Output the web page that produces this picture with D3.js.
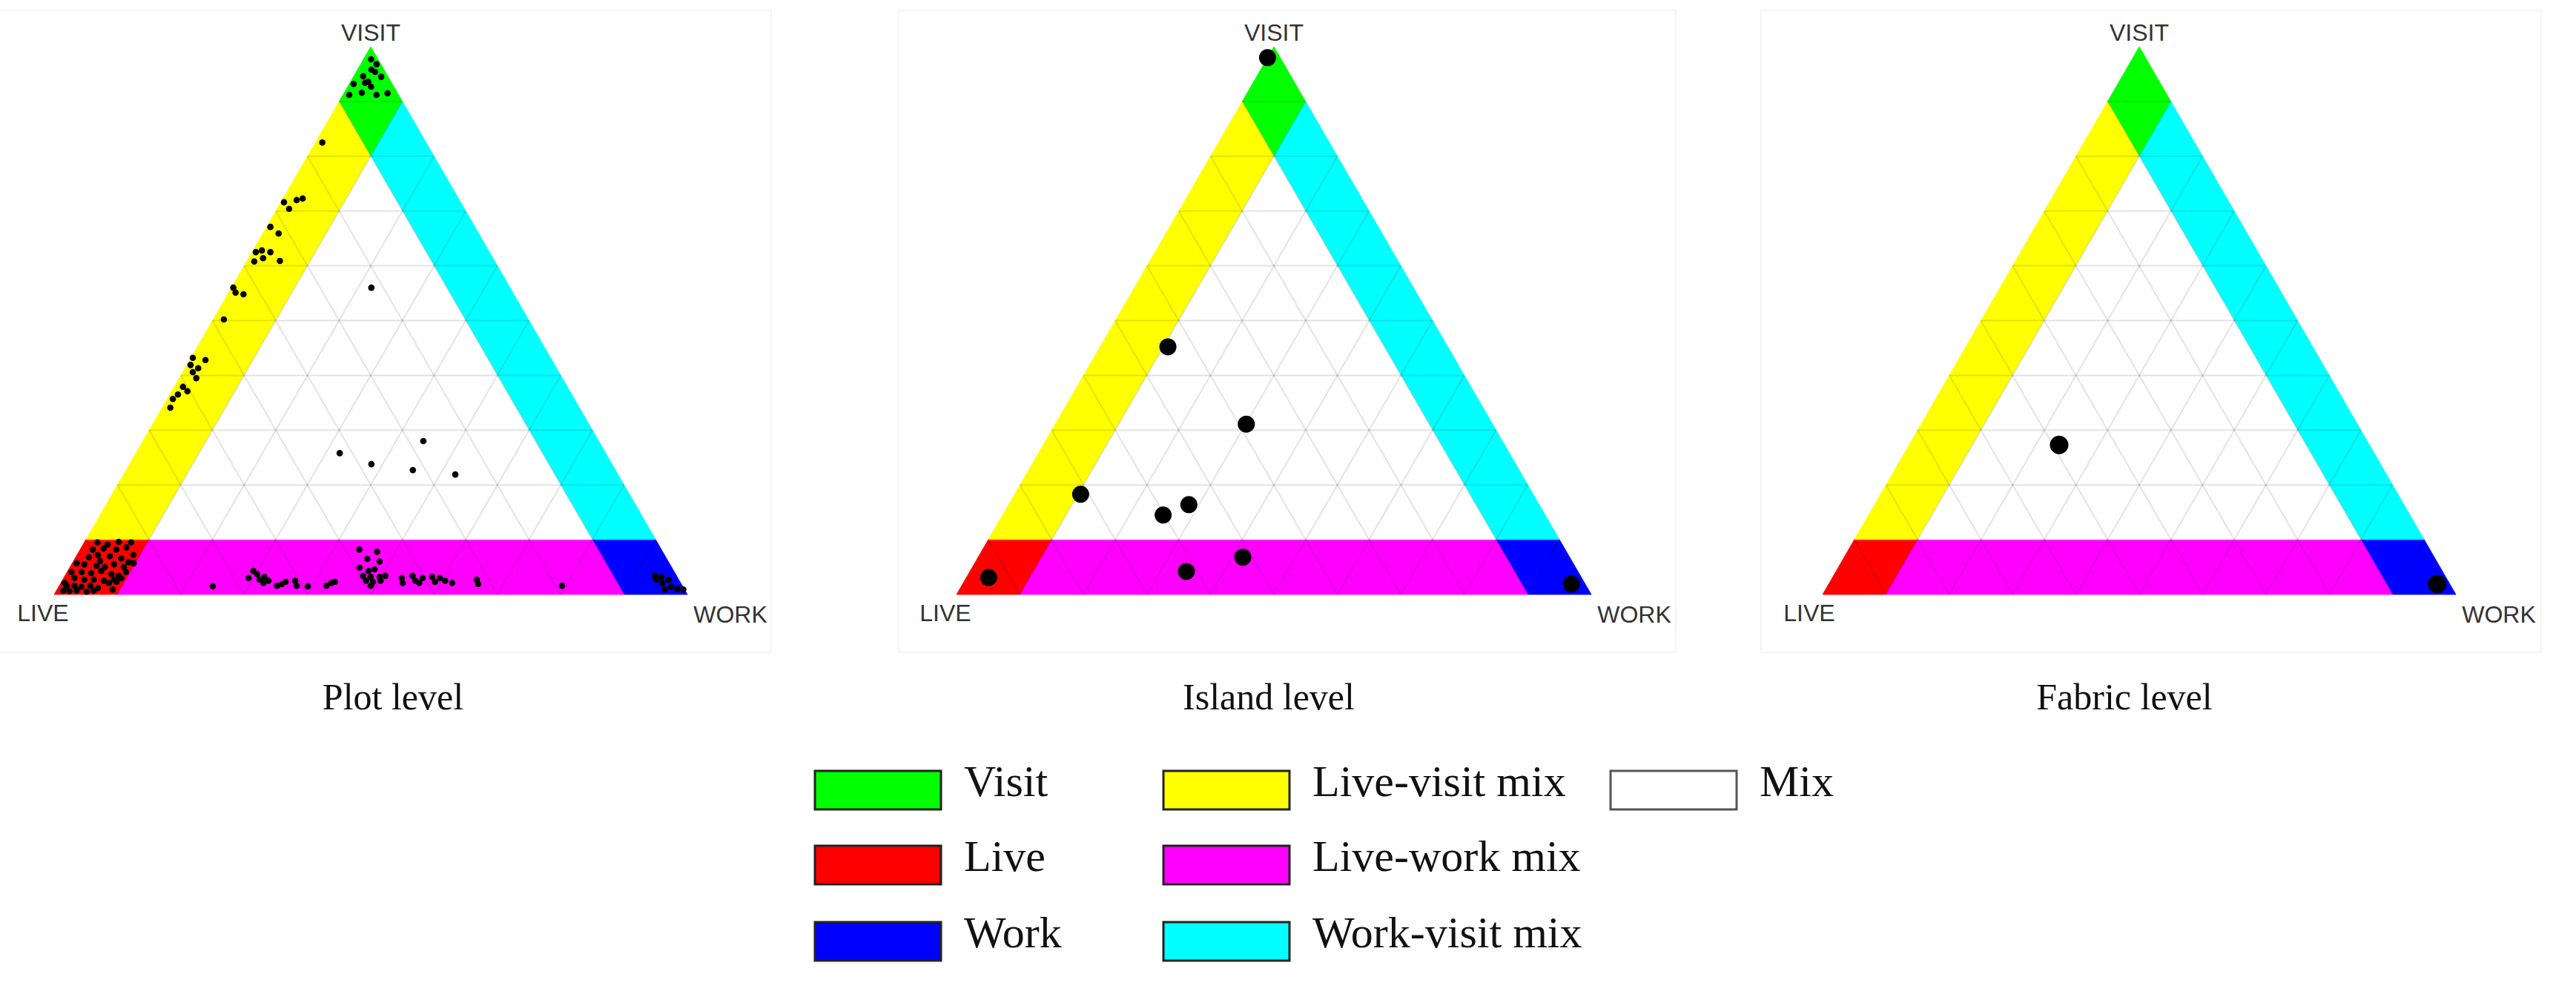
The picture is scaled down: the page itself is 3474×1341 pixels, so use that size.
<!DOCTYPE html>
<html>
<head>
<meta charset="utf-8">
<script src="https://cdn.jsdelivr.net/npm/d3@7"></script>
<style>
  body { margin: 0; background: #fff; }
</style>
</head>
<body>
<div id="chart"></div>
<script>
// corner names: [live, work, visit]
const cornerLabels = ['LIVE', 'WORK', 'VISIT'];
const panelTitles = ['Plot level', 'Island level', 'Fabric level'];

const zoneNames = ['Visit', 'Live', 'Work', 'Live-visit mix', 'Live-work mix', 'Work-visit mix', 'Mix'];
const zoneColors = ['#00ff00', '#ff0000', '#0000ff', '#ffff00', '#ff00ff', '#00ffff', '#ffffff'];
// zone outlines as [live, work, visit] shares
const zoneShapes = [
    [[0, 0, 1], [0.1, 0, 0.9], [0.1, 0.1, 0.8], [0, 0.1, 0.9]],
    [[1, 0, 0], [0.9, 0.1, 0], [0.8, 0.1, 0.1], [0.9, 0, 0.1]],
    [[0, 1, 0], [0, 0.9, 0.1], [0.1, 0.8, 0.1], [0.1, 0.9, 0]],
    [[0.9, 0, 0.1], [0.8, 0.1, 0.1], [0.1, 0.1, 0.8], [0.1, 0, 0.9]],
    [[0.9, 0.1, 0], [0.1, 0.9, 0], [0.1, 0.8, 0.1], [0.8, 0.1, 0.1]],
    [[0, 0.9, 0.1], [0, 0.1, 0.9], [0.1, 0.1, 0.8], [0.1, 0.8, 0.1]],
    [[0.8, 0.1, 0.1], [0.1, 0.8, 0.1], [0.1, 0.1, 0.8]]
];
const gridTicks = [0.1, 0.2, 0.3, 0.4, 0.5, 0.6, 0.7, 0.8, 0.9];

// points as [live %, work %, visit %]
const plotLevel = [
    [1.1, 1.2, 97.7], [0.7, 2.5, 96.8], [2.0, 2.2, 95.8], [3.9, 1.5, 94.6], [3.6, 2.8, 93.6], [3.6, 3.7, 92.7],
    [1.1, 4.4, 94.5], [6.1, 0.7, 93.2], [5.6, 2.8, 91.6], [7.8, 1.0, 91.2], [3.5, 5.3, 91.2], [1.6, 6.9, 91.5],
    [4.2, 2.4, 93.4], [1.6, 3.0, 95.4],
    [16.4, 1.1, 82.5], [27.9, 0.5, 71.6], [27.7, 1.9, 70.4], [25.7, 2.3, 72.0], [24.6, 3.1, 72.3], [32.3, 0.6, 67.1],
    [31.6, 2.5, 65.9], [36.9, 0.6, 62.5], [35.8, 1.4, 62.8], [34.6, 2.9, 62.5], [38.0, 1.2, 60.8], [36.3, 2.3, 61.4],
    [33.9, 5.2, 60.9], [43.7, 0.3, 56.0], [43.8, 1.1, 55.1], [42.7, 2.5, 54.8], [48.1, 1.7, 50.2], [56.5, 0.3, 43.2],
    [54.7, 2.5, 42.8], [57.5, 0.6, 41.9], [56.6, 2.1, 41.3], [57.8, 1.6, 40.6], [57.8, 2.7, 39.5], [60.7, 1.4, 37.9],
    [60.4, 2.5, 37.1], [62.2, 1.3, 36.5], [63.4, 0.9, 35.7], [64.6, 1.3, 34.1],
    [21.9, 22.1, 56.0], [27.7, 44.3, 28.0], [42.0, 32.2, 25.8], [38.0, 38.2, 23.8], [32.0, 45.3, 22.7], [25.7, 52.4, 21.9],
    [88.4, 2.1, 9.5], [87.0, 3.9, 9.1], [85.0, 5.4, 9.6], [83.1, 7.4, 9.5], [89.8, 2.0, 8.2], [88.0, 3.6, 8.4],
    [86.1, 5.7, 8.2], [84.3, 7.1, 8.6], [83.9, 8.9, 7.2], [91.1, 2.1, 6.8], [89.5, 3.3, 7.2], [87.7, 5.3, 7.0],
    [86.1, 7.3, 6.6], [85.3, 8.8, 5.9], [93.6, 0.7, 5.7], [92.5, 2.0, 5.5], [90.7, 4.1, 5.2], [89.5, 5.5, 5.0],
    [87.8, 6.7, 5.5], [86.5, 8.5, 5.0], [84.6, 9.7, 5.7], [93.6, 2.3, 4.1], [92.2, 3.9, 3.9], [90.4, 5.3, 4.3],
    [89.1, 7.2, 3.7], [88.1, 8.5, 3.4], [86.6, 9.3, 4.1], [95.3, 1.7, 3.0], [93.9, 3.4, 2.7], [92.4, 4.9, 2.7],
    [90.9, 6.6, 2.5], [89.2, 8.1, 2.7], [87.9, 9.1, 3.0], [97.2, 1.2, 1.6], [96.0, 2.4, 1.6], [95.0, 3.6, 1.4],
    [93.5, 4.9, 1.6], [92.5, 6.3, 1.2], [90.3, 7.6, 2.1], [89.0, 8.7, 2.3], [98.2, 1.1, 0.7], [97.3, 2.1, 0.6],
    [96.1, 3.2, 0.7], [94.6, 4.9, 0.5], [93.4, 5.9, 0.7], [90.3, 8.8, 0.9], [97.3, 0.6, 2.1], [95.2, 0.7, 4.1],
    [89.7, 4.2, 6.1],
    [74.2, 24.3, 1.5], [67.8, 29.2, 3.0], [66.4, 29.3, 4.3], [66.1, 30.2, 3.7], [66.2, 31.1, 2.7], [65.9, 32.0, 2.1],
    [65.2, 31.6, 3.2], [64.9, 32.6, 2.5], [64.0, 34.4, 1.6], [63.1, 35.0, 1.9], [62.3, 35.4, 2.3], [60.7, 36.8, 2.5],
    [60.9, 37.5, 1.6], [59.2, 39.3, 1.5], [56.2, 42.2, 1.6], [55.2, 42.7, 2.1], [54.5, 43.2, 2.3],
    [47.7, 44.1, 8.2], [45.1, 47.1, 7.8], [47.3, 46.2, 6.5], [45.6, 48.4, 6.0], [49.3, 45.8, 4.9], [48.2, 47.5, 4.3],
    [47.1, 48.3, 4.6], [49.5, 47.1, 3.4], [48.4, 48.4, 3.2], [47.0, 49.8, 3.2], [46.0, 50.6, 3.4], [49.5, 48.0, 2.5],
    [48.5, 49.2, 2.3], [47.2, 50.3, 2.5], [49.2, 49.2, 1.6], [43.6, 53.4, 3.0], [43.9, 54.0, 2.1], [41.7, 54.9, 3.4],
    [41.7, 55.8, 2.5], [41.3, 56.6, 2.1], [40.3, 56.7, 3.0], [38.7, 58.1, 3.2], [38.7, 59.0, 2.3], [37.6, 59.4, 3.0],
    [37.0, 60.5, 2.5], [36.1, 61.8, 2.1], [31.9, 65.4, 2.7], [32.1, 66.0, 1.9], [19.0, 79.4, 1.6],
    [3.4, 93.2, 3.4], [2.5, 94.3, 3.2], [1.6, 95.7, 2.7], [2.9, 95.0, 2.1], [1.9, 96.7, 1.4], [1.1, 97.9, 1.0],
    [0.2, 98.9, 0.9], [3.1, 96.0, 0.9], [3.6, 93.7, 2.7]
];
const islandLevel = [
    [2.0, 0.0, 98.0], [44.1, 10.7, 45.2], [38.8, 30.1, 31.1], [71.3, 10.4, 18.3], [55.2, 28.4, 16.4],
    [60.2, 25.3, 14.5], [51.5, 41.7, 6.8], [61.7, 34.1, 4.2], [93.4, 3.5, 3.1], [2.2, 95.9, 1.9]
];
const fabricLevel = [
    [49.0, 23.7, 27.3], [2.0, 96.1, 1.9]
];

const legendColumns = [[0, 1, 2], [3, 4, 5], [6]];

const W = 3474, H = 1341;
const baseY = 802, apexY = 63;

const panels = [
    { data: plotLevel, left: 73, right: 927, r: 4.3, titleX: 530, liveDx: -15, box: [-4, 14, 1044, 866] },
    { data: islandLevel, left: 1290, right: 2146, r: 11.5, titleX: 1711, liveDx: -15, box: [1212, 14, 1048, 866] },
    { data: fabricLevel, left: 2458, right: 3312, r: 12.5, titleX: 2865, liveDx: -18, box: [2375, 14, 1052, 866] }
];

const svg = d3.select('#chart')
    .append('svg')
    .attr('width', W)
    .attr('height', H);

svg.append('rect').attr('width', W).attr('height', H).attr('fill', '#fff');

panels.forEach((p, pi) => {
    const g = svg.append('g');

    // faint frame of each sub-figure
    g.append('rect')
        .attr('x', p.box[0]).attr('y', p.box[1])
        .attr('width', p.box[2]).attr('height', p.box[3])
        .attr('fill', 'none')
        .attr('stroke', '#f4f4f4')
        .attr('stroke-width', 2);

    const x = d3.scaleLinear().domain([0, 1]).range([p.left, p.right]);
    const y = d3.scaleLinear().domain([0, 1]).range([baseY, apexY]);
    const proj = d => {
        const s = d[0] + d[1] + d[2];
        return [x((d[1] + d[2] / 2) / s), y(d[2] / s)];
    };
    const line = d3.line();

    // zones
    g.selectAll('path.zone')
        .data(zoneShapes)
        .join('path')
        .attr('class', 'zone')
        .attr('d', d => line(d.map(proj)) + 'Z')
        .attr('fill', (d, i) => zoneColors[i])
        .attr('stroke', (d, i) => zoneColors[i])
        .attr('stroke-width', 0.8);

    // grid
    const gridLines = [];
    gridTicks.forEach(t => {
        gridLines.push([[1 - t, 0, t], [0, 1 - t, t]]);
        gridLines.push([[1 - t, t, 0], [0, t, 1 - t]]);
        gridLines.push([[t, 1 - t, 0], [t, 0, 1 - t]]);
    });
    g.selectAll('path.grid')
        .data(gridLines)
        .join('path')
        .attr('class', 'grid')
        .attr('d', d => line(d.map(proj)))
        .attr('fill', 'none')
        .attr('stroke', 'rgba(0,0,0,0.11)')
        .attr('stroke-width', 2);

    // points
    g.selectAll('circle')
        .data(p.data)
        .join('circle')
        .attr('cx', d => proj(d)[0])
        .attr('cy', d => proj(d)[1])
        .attr('r', p.r)
        .attr('fill', '#000');

    // corner labels
    const lab = g.append('g')
        .style('font-family', '"Liberation Sans", Arial, sans-serif')
        .style('font-size', '32px')
        .attr('fill', '#333')
        .attr('text-anchor', 'middle');
    lab.append('text').attr('x', x(0.5)).attr('y', apexY - 8).text(cornerLabels[2]);
    lab.append('text').attr('x', x(0) + p.liveDx).attr('y', baseY + 36).text(cornerLabels[0]);
    lab.append('text').attr('x', x(1) + 58).attr('y', baseY + 38).text(cornerLabels[1]);

    // title
    g.append('text')
        .attr('x', p.titleX)
        .attr('y', 957)
        .attr('text-anchor', 'middle')
        .style('font-family', '"Liberation Serif", "Times New Roman", serif')
        .style('font-size', '50px')
        .attr('fill', '#111')
        .text(panelTitles[pi]);
});

// legend
const legendX = [1099, 1569, 2172];
const legendY = [1040, 1141, 1244];
const legend = svg.append('g');
legendColumns.forEach((col, ci) => {
    col.forEach((zi, ri) => {
        legend.append('rect')
            .attr('x', legendX[ci])
            .attr('y', legendY[ri])
            .attr('width', 170)
            .attr('height', 52)
            .attr('fill', zoneColors[zi])
            .attr('stroke', zi === 6 ? '#555' : '#222')
            .attr('stroke-width', 3);
        legend.append('text')
            .attr('x', legendX[ci] + 201)
            .attr('y', legendY[ri] + 34)
            .style('font-family', '"Liberation Serif", "Times New Roman", serif')
            .style('font-size', '60px')
            .attr('fill', '#111')
            .text(zoneNames[zi]);
    });
});
</script>
</body>
</html>
